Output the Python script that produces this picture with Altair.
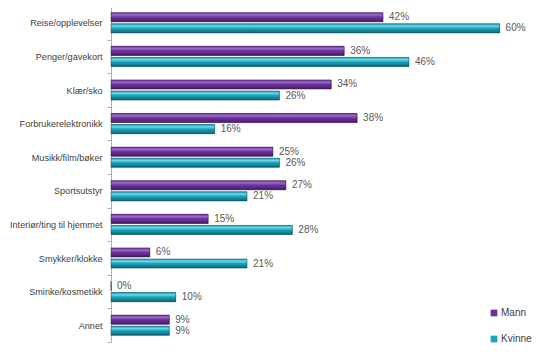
import altair as alt
import pandas as pd

categories = ["Reise/opplevelser", "Penger/gavekort", "Klær/sko", "Forbrukerelektronikk",
              "Musikk/film/bøker", "Sportsutstyr", "Interiør/ting til hjemmet",
              "Smykker/klokke", "Sminke/kosmetikk", "Annet"]
mann = [42, 36, 34, 38, 25, 27, 15, 6, 0, 9]
kvinne = [60, 46, 26, 16, 26, 21, 28, 21, 10, 9]
series = ["Mann", "Kvinne"]
colors = ["#7030a0", "#1ba3bb"]

rows = []
for c, m, k in zip(categories, mann, kvinne):
    rows.append({"cat": c, "serie": "Mann", "val": m, "lbl": f"{m}%"})
    rows.append({"cat": c, "serie": "Kvinne", "val": k, "lbl": f"{k}%"})
df = pd.DataFrame(rows)

FONT = "Liberation Sans"

yscale = alt.Scale(domain=categories, paddingInner=0.0, paddingOuter=0.0)
ysc = alt.Y("cat:N", sort=categories, scale=yscale,
            axis=alt.Axis(title=None, labelFont=FONT, labelFontSize=9.1, labelColor="#404040",
                          labelPadding=5, domainColor="#b0b0b0", tickColor="#b0b0b0",
                          tickSize=4, tickBand="extent", labelLimit=200))
yoff = alt.YOffset("serie:N", sort=series,
                   scale=alt.Scale(domain=series, paddingInner=0.18, paddingOuter=0.6))
xsc = alt.X("val:Q", scale=alt.Scale(domain=[0, 65], nice=False), axis=None)

base = alt.Chart(df)

bars = base.mark_bar().encode(
    y=ysc, yOffset=yoff, x=xsc,
    color=alt.Color("serie:N", sort=series,
                    scale=alt.Scale(domain=series, range=colors),
                    legend=alt.Legend(title=None, orient="none", legendX=378, legendY=302,
                                      symbolType="square", symbolSize=45, symbolStrokeWidth=0,
                                      labelFont=FONT, labelFontSize=10, labelColor="#404040",
                                      rowPadding=16, labelOffset=2)),
)

def grad(light, mid, dark):
    return alt.Gradient(gradient="linear", x1=0, y1=0, x2=0, y2=1,
                        stops=[alt.GradientStop(offset=0, color=mid),
                               alt.GradientStop(offset=0.25, color=light),
                               alt.GradientStop(offset=0.5, color=mid),
                               alt.GradientStop(offset=1, color=dark)])

g_m = base.transform_filter(alt.datum.serie == "Mann").mark_bar(
    color=grad("#9a6cc8", "#7030a0", "#45205f"), stroke="#2e1440", strokeWidth=0.5
).encode(y=ysc, yOffset=yoff, x=xsc)
g_k = base.transform_filter(alt.datum.serie == "Kvinne").mark_bar(
    color=grad("#6fd6e6", "#1ba3bb", "#0d6575"), stroke="#0a4450", strokeWidth=0.5
).encode(y=ysc, yOffset=yoff, x=xsc)

labels = base.mark_text(align="left", baseline="middle", dx=6, font=FONT,
                        fontSize=10, color="#595959").encode(
    y=ysc, yOffset=yoff, x=xsc, text="lbl:N")

chart = alt.layer(bars, g_m, g_k, labels).properties(
    width=421, height=336,
    autosize=alt.AutoSizeParams(type="none"),
    padding={"left": 103, "top": -2, "right": 10, "bottom": 20},
).configure_view(stroke=None)

chart.save("out.html", embed_options={"renderer": "svg", "actions": False})
